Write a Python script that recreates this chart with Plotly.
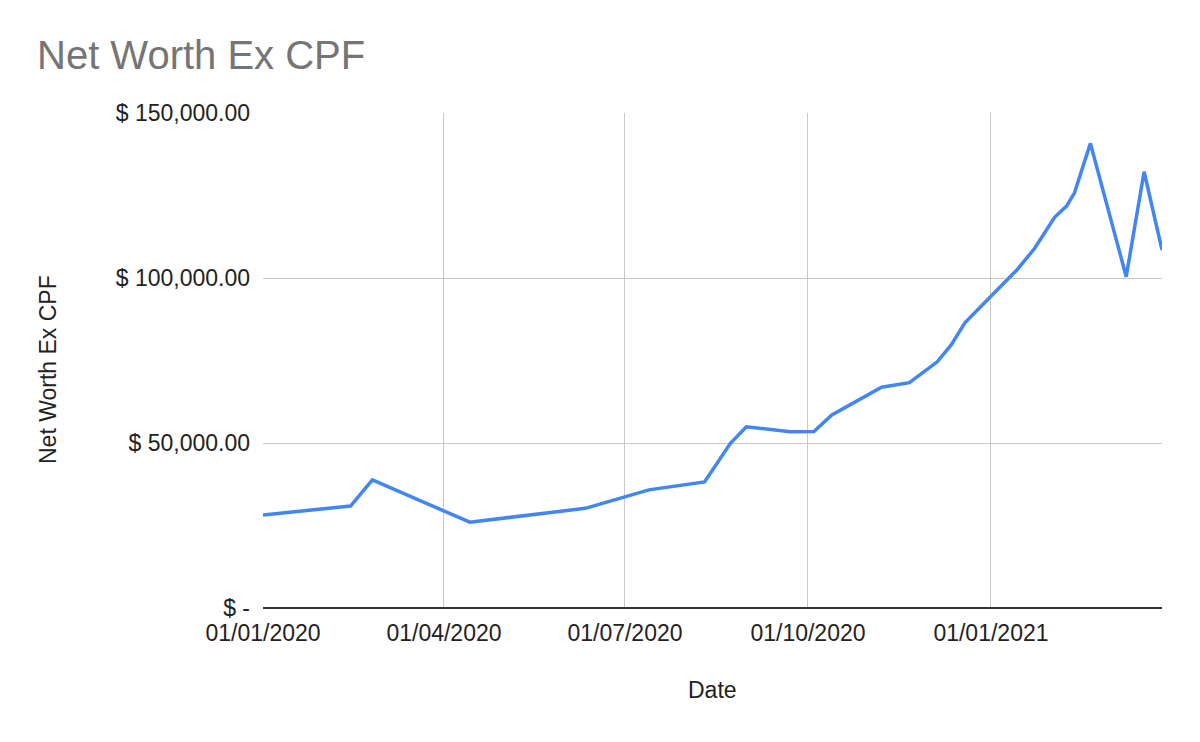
import plotly.graph_objects as go

dates = [
    "2020-01-01", "2020-02-14", "2020-02-25", "2020-04-14", "2020-06-11",
    "2020-07-13", "2020-08-10", "2020-08-23", "2020-08-31", "2020-09-22",
    "2020-10-04", "2020-10-13", "2020-11-07", "2020-11-21", "2020-12-05",
    "2020-12-12", "2020-12-19", "2021-01-14", "2021-01-23", "2021-02-02",
    "2021-02-08", "2021-02-12", "2021-02-20", "2021-03-10", "2021-03-19",
    "2021-03-28",
]
net_worth = [
    28200, 30900, 38800, 26000, 30200,
    35800, 38200, 49900, 54900, 53400,
    53500, 58500, 66900, 68300, 74600,
    79700, 86500, 102400, 109000, 118400,
    121800, 125800, 140800, 100400, 132200,
    108500,
]
y_tick_vals = [0, 50000, 100000, 150000]
y_tick_text = ["$ -", "$ 50,000.00", "$ 100,000.00", "$ 150,000.00"]
x_tick_vals = ["2020-01-01", "2020-04-01", "2020-07-01", "2020-10-01", "2021-01-01"]
x_tick_text = ["01/01/2020", "01/04/2020", "01/07/2020", "01/10/2020", "01/01/2021"]

FONT = "Liberation Sans, Arial, sans-serif"
FS = 23

fig = go.Figure()
fig.add_trace(go.Scatter(
    x=dates, y=net_worth, mode="lines",
    line=dict(color="#4285F4", width=3.5),
    name="Net Worth Ex CPF",
))

fig.update_layout(
    width=1200, height=742,
    paper_bgcolor="white", plot_bgcolor="white",
    margin=dict(l=263, r=38, t=113, b=134),
    showlegend=False,
    font=dict(family=FONT, size=FS, color="#222222"),
    title=dict(
        text="Net Worth Ex CPF",
        font=dict(family=FONT, size=40, color="#757575"),
        xref="container", yref="container",
        x=37 / 1200, xanchor="left",
        y=1 - 55 / 742, yanchor="middle",
    ),
    xaxis=dict(
        range=["2020-01-01", "2021-03-28"],
        tickvals=x_tick_vals, ticktext=x_tick_text,
        showgrid=True, gridcolor="#c8c8c8", gridwidth=1.4,
        zeroline=False, ticks="", showline=False,
        tickfont=dict(family=FONT, size=FS, color="#222222"),
        ticklabelstandoff=9,
    ),
    yaxis=dict(
        range=[0, 150000],
        tickvals=y_tick_vals, ticktext=y_tick_text,
        showgrid=True, gridcolor="#c8c8c8", gridwidth=1.4,
        zeroline=True, zerolinecolor="#333333", zerolinewidth=2,
        ticks="", showline=False,
        tickfont=dict(family=FONT, size=FS, color="#222222"),
        ticklabelstandoff=12,
    ),
    annotations=[
        dict(text="Date", xref="paper", yref="paper",
             x=0.5, y=-(690 - 608) / 495, xanchor="center", yanchor="middle",
             showarrow=False, font=dict(family=FONT, size=FS, color="#222222")),
        dict(text="Net Worth Ex CPF", xref="paper", yref="paper",
             x=-(263 - 48) / 899, y=(608 - 370) / 495, xanchor="center", yanchor="middle",
             textangle=-90, showarrow=False,
             font=dict(family=FONT, size=FS, color="#222222")),
    ],
)

fig.write_html(
    "out.html",
    config={"displayModeBar": False},
    post_script="document.body.style.margin='0';document.body.style.overflow='hidden';",
)
